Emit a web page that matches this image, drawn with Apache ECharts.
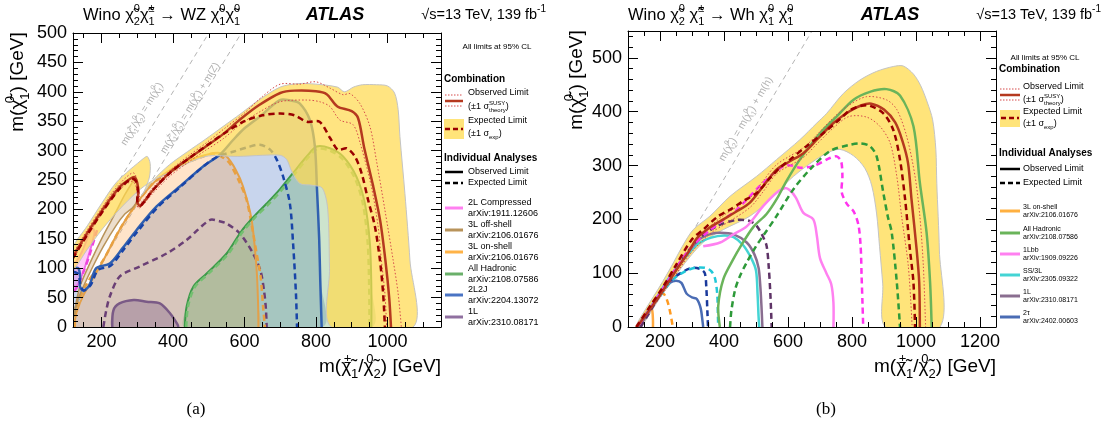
<!DOCTYPE html>
<html><head><meta charset="utf-8">
<script src="https://cdn.jsdelivr.net/npm/echarts@6.0.0/dist/echarts.min.js"></script>
<style>html,body{margin:0;padding:0;background:#fff}#c{width:1107px;height:432px}</style>
</head><body><div id="c"></div>
<script>
// ---------------- DATA: panel (a) Wino WZ ----------------
const wzXLabels = [200, 400, 600, 800, 1000];
const wzYLabels = [0, 50, 100, 150, 200, 250, 300, 350, 400, 450, 500];
const wzObs = [[120,120],[160,160],[200,197],[250,238],[280,252],[292,255],[300,245],[303,228],[300,213],[308,206],[340,230],[390,262],[440,285],[490,306],[540,328],[590,354],[640,377],[700,398],[740,402],[800,401],[830,396],[860,375],[900,367],[918,355],[935,305],[960,240],[980,180],[995,110],[1005,50],[1010,0]];
const wzExp = [[120,117],[160,157],[200,194],[250,235],[284,252],[296,248],[302,230],[300,214],[310,207],[345,234],[395,264],[445,287],[495,309],[545,330],[600,350],[650,360],[700,363],[740,360],[775,349],[810,349],[840,321],[862,301],[886,304],[909,290],[928,261],[946,216],[965,171],[979,114],[988,57],[993,0]];
const wzObsUp = [[120,125],[160,165],[200,202],[250,243],[290,262],[304,232],[310,212],[345,238],[395,268],[445,292],[495,314],[545,338],[600,364],[650,392],[700,413],[755,413],[800,417],[840,406],[876,395],[895,397],[923,380],[951,341],[969,284],[993,199],[1016,114],[1030,57],[1039,0]];
const wzObsDn = [[120,115],[160,155],[200,192],[250,233],[285,248],[296,240],[300,222],[297,210],[306,202],[340,225],[390,256],[440,279],[490,300],[540,320],[590,345],[640,365],[699,383],[774,386],[811,383],[839,375],[867,352],[904,344],[925,310],[955,239],[974,171],[983,114],[993,57],[998,0]];
const wzBandUp = [[120,135],[160,172],[200,210],[240,245],[280,268],[300,278],[318,287],[328,290],[336,278],[334,255],[320,232],[312,224],[345,250],[390,276],[440,298],[490,319],[540,341],[590,363],[640,386],[700,408],[750,414],[800,413],[860,408],[880,400],[905,408],[930,412],[970,412],[1000,410],[1020,398],[1030,370],[1035,324],[1049,227],[1063,114],[1072,0]];
const wzBandDn = [[120,98],[160,132],[200,165],[250,200],[300,230],[340,248],[400,266],[450,281],[500,291],[580,290],[650,292],[700,292],[718,285],[732,265],[755,244],[790,241],[818,236],[833,200],[838,100],[843,0]];
const wzDiag1 = [[120,120],[500,500]];
const wzDiag2 = [[120,28.8],[591.2,500]];
const l2jObs = [[120,100],[135,100],[140,85],[139,70],[148,62],[165,70],[185,100],[223,108],[260,135],[298,165],[354,205],[419,239],[484,273],[531,293],[568,318],[600,338],[643,358],[699,386],[730,385],[755,380],[783,352],[797,307],[803,233],[809,150],[812,80],[816,0]];
const l2jExp = [[120,94],[135,90],[140,75],[150,62],[170,72],[190,97],[225,104],[262,132],[300,162],[356,203],[420,238],[485,273],[525,290],[568,298],[610,306],[643,310],[671,302],[690,285],[708,256],[727,210],[736,142],[744,57],[747,0]];
const l3onObs = [[124,5],[130,25],[150,55],[200,108],[250,165],[300,212],[350,248],[400,270],[450,285],[500,294],[530,296],[550,290],[575,268],[596,239],[620,182],[634,97],[638,40],[639,0]];
const l3onExp = [[125,0],[130,35],[160,75],[205,114],[250,165],[298,210],[345,245],[391,263],[440,280],[484,290],[512,295],[540,288],[559,278],[587,245],[606,216],[624,160],[634,125],[645,86],[652,35],[657,0]];
const l3offObs = [[120,15],[125,30],[140,70],[170,112],[200,150],[235,190],[265,225],[285,245],[293,252],[300,240],[300,218],[290,205],[265,192],[240,172],[205,137],[175,102],[150,70],[133,45],[125,22]];
const l2cObs = [[120,72],[128,68],[140,80],[155,105],[170,135],[180,160],[175,168],[160,150],[145,128],[130,112],[120,108]];
const l2cExp = [[122,60],[135,72],[150,95],[165,120],[180,150],[190,170]];
const l1Obs = [[230,0],[233,28],[250,40],[290,46],[326,43],[363,40],[392,23],[412,5],[415,0]];
const l1Exp = [[205,0],[212,25],[223,52],[251,86],[307,103],[382,125],[438,148],[503,182],[530,180],[550,176],[587,159],[624,125],[645,95],[655,60],[660,30],[662,0]];
const hadObs = [[433,0],[438,35],[457,69],[494,91],[550,125],[590,162],[625,187],[662,210],[700,235],[736,262],[774,290],[802,307],[839,304],[876,290],[913,256],[937,210],[951,142],[955,69],[955,0]];
const hadExp = [[437,0],[442,35],[461,68],[498,90],[554,124],[594,161],[629,186],[666,208],[704,233],[740,260],[776,287],[804,303],[839,300],[874,286],[909,253],[932,208],[945,142],[949,69],[950,0]];

// ---------------- DATA: panel (b) Wino Wh ----------------
const whXLabels = [200, 400, 600, 800, 1000, 1200];
const whYLabels = [0, 100, 200, 300, 400, 500];
const whObs = [[128,0],[165,30],[204,63],[250,105],[290,140],[315,165],[356,185],[398,200],[440,215],[481,231],[523,262],[565,293],[606,308],[648,323],[690,348],[742,379],[790,400],[830,412],[860,415],[900,404],[935,380],[958,345],[975,305],[986,237],[1002,144],[1010,83],[1012,0]];
const whExp = [[126,0],[165,35],[210,75],[250,115],[300,163],[335,181],[380,205],[419,218],[460,234],[502,249],[544,277],[575,296],[606,311],[658,336],[710,360],[760,385],[794,403],[830,411],[856,411],[898,397],[929,366],[950,311],[966,237],[981,144],[992,83],[997,0]];
const whObsUp = [[130,0],[170,32],[210,70],[255,112],[300,152],[340,178],[400,208],[481,240],[523,272],[565,302],[648,333],[690,357],[742,389],[790,412],[846,428],[908,422],[940,404],[971,354],[997,280],[1012,206],[1023,113],[1030,0]];
const whObsDn = [[126,0],[165,28],[200,55],[250,98],[300,140],[360,175],[400,190],[481,222],[523,252],[565,285],[648,315],[690,340],[742,370],[790,391],[846,390],[887,373],[919,342],[940,280],[955,206],[976,113],[988,0]];
const whBandUp = [[124,0],[160,38],[200,76],[236,113],[270,150],[304,181],[356,206],[419,243],[502,280],[564,311],[637,348],[690,379],[721,397],[773,434],[825,459],[877,475],[929,484],[960,485],[992,470],[1015,448],[1035,418],[1052,385],[1062,330],[1065,267],[1073,143],[1075,0]];
const whBandDn = [[140,0],[190,45],[240,88],[290,128],[340,160],[398,181],[481,206],[544,237],[606,274],[658,299],[721,323],[762,330],[805,318],[840,295],[862,262],[877,210],[886,150],[896,80],[905,0]];
const whDiag = [[125,0],[675,550]];
const whHadObs = [[387,0],[382,39],[398,89],[429,126],[450,148],[492,186],[533,210],[565,238],[596,272],[637,311],[700,360],[752,391],[804,422],[856,437],[908,442],[950,430],[992,373],[1012,268],[1033,176],[1044,83],[1049,0]];
const whHadExp = [[419,0],[423,30],[435,70],[450,95],[471,120],[500,150],[523,170],[564,206],[617,256],[669,293],[731,327],[790,338],[825,341],[856,336],[877,317],[898,249],[912,205],[924,176],[940,83],[950,0]];
const whLbbObs = [[335,150],[388,157],[429,172],[471,187],[523,225],[565,250],[590,258],[606,254],[625,240],[648,212],[679,200],[690,170],[700,128],[720,100],[735,80],[742,45],[742,0]];
const whLbbExp = [[135,5],[170,35],[200,63],[260,118],[300,150],[346,175],[400,200],[440,218],[512,262],[585,299],[610,300],[637,296],[679,299],[731,314],[752,317],[766,308],[770,280],[768,250],[785,228],[805,215],[820,190],[827,150],[830,95],[833,40],[835,0]];
const wh1LObs = [[135,0],[200,60],[260,115],[300,148],[325,164],[360,173],[388,175],[430,172],[471,157],[495,135],[508,110],[513,80],[517,40],[520,0]];
const wh1LExp = [[140,0],[200,60],[260,118],[320,163],[380,188],[440,199],[480,197],[502,188],[520,170],[533,151],[540,110],[545,60],[549,0]];
const whSSObs = [[130,0],[180,45],[230,93],[280,130],[320,155],[360,166],[400,170],[430,167],[460,152],[485,128],[500,105],[505,60],[508,20],[510,0]];
const whSSExp = [[200,58],[240,88],[280,104],[310,110],[340,110],[360,104],[372,90],[379,60],[381,20],[382,0]];
const whTauObs = [[140,10],[170,35],[200,62],[231,82],[250,86],[267,82],[283,62],[300,55],[315,52],[327,35],[333,10],[335,0]];
const whTauExp = [[190,52],[230,85],[270,102],[300,110],[325,108],[340,100],[345,70],[348,30],[350,0]];
const wh3LObs = [[126,0],[150,20],[170,38],[176,30],[178,12],[178,0]];
const wh3LExp = [[128,0],[160,30],[190,55],[210,62],[222,50],[232,27],[240,0]];

// ---------------- LEGEND TEXT ----------------
const wzLegNames = ['2L Compressed','3L off-shell','3L on-shell','All Hadronic','2L2J','1L'];
const wzLegRefs = ['arXiv:1911.12606','arXiv:2106.01676','arXiv:2106.01676','arXiv:2108.07586','arXiv:2204.13072','arXiv:2310.08171'];
const whLegNames = ['3L on-shell','All Hadronic','1Lbb','SS/3L','1L','2τ'];
const whLegRefs = ['arXiv:2106.01676','arXiv:2108.07586','arXiv:1909.09226','arXiv:2305.09322','arXiv:2310.08171','arXiv:2402.00603'];

// ---------------- STYLE ----------------
const FONT = 'Liberation Sans';
const wzLegColors = ['#ff80f0','#b8935a','#ffb347','#6ab06a','#4a74c4','#9070a0'];
const whLegColors = ['#ffb040','#6ab45a','#ff80f0','#44d4d4','#8a6e90','#4a6cb4'];
const RED_OBS = '#b5391f', RED_EXP = '#990000', RED_DOT = '#d64b4b';

function ticks(a, b, s) { const r = []; for (let v = a; v <= b + 1e-9; v += s) r.push(v); return r; }

function ax(grid, min, max, pos, tickVals, len, labels, line) {
  return {
    type: 'value', gridIndex: grid, min: min, max: max, position: pos, z: 10,
    axisLine: { show: line, onZero: false, lineStyle: { color: '#000', width: 1 } },
    axisTick: { show: true, inside: true, length: len, customValues: tickVals, lineStyle: { color: '#000', width: 1 } },
    axisLabel: labels ? { show: true, customValues: labels, fontFamily: FONT, fontSize: 18, color: '#000', margin: 6,
      formatter: function (v) { return String(v); } } : { show: false },
    splitLine: { show: false }, minorTick: { show: false }
  };
}

const AX = [{ x: 0, y: 0 }, { x: 4, y: 4 }];
function poly(p, pts, fill, z, stroke) {
  return {
    type: 'custom', xAxisIndex: AX[p].x, yAxisIndex: AX[p].y, z: z, silent: true, clip: true,
    data: [pts[0]],
    renderItem: function (params, api) {
      return { type: 'polygon', shape: { points: pts.map(function (q) { return api.coord(q); }), smooth: 0.3 },
        style: { fill: fill, stroke: stroke || 'none', lineWidth: 1 } };
    }
  };
}
function curve(p, pts, color, width, dash, z, sm) {
  return {
    type: 'custom', xAxisIndex: AX[p].x, yAxisIndex: AX[p].y, z: z, silent: true, clip: true,
    data: [pts[0]],
    renderItem: function (params, api) {
      return { type: 'polyline', shape: { points: pts.map(function (q) { return api.coord(q); }), smooth: sm == null ? 0.3 : sm },
        style: { stroke: color, lineWidth: width, lineDash: dash || null, fill: 'none' } };
    }
  };
}
const DASH = [6, 4], DOT = [1.5, 2];

const series = [];
// panel a: diagonals
series.push(curve(0, wzDiag1, '#b4b4b4', 1, [5, 4], 1, 0));
series.push(curve(0, wzDiag2, '#b4b4b4', 1, [5, 4], 1, 0));
// panel a: fills
series.push(poly(0, l2jObs.concat([[120, 0]]), 'rgba(74,116,196,0.3)', 2));
series.push(poly(0, l3onObs.concat([[120, 0]]), 'rgba(255,166,77,0.3)', 2));
series.push(poly(0, l1Obs, 'rgba(122,90,134,0.35)', 2));
series.push(poly(0, hadObs, 'rgba(90,165,90,0.3)', 2));
series.push(poly(0, l3offObs, 'rgba(200,160,112,0.35)', 2));
series.push(poly(0, l2cObs, 'rgba(255,102,238,0.35)', 2));
// panel a: analysis lines
series.push(curve(0, l1Obs, '#7a5a86', 2.5, null, 3));
series.push(curve(0, l1Exp, '#6a3f75', 2.5, DASH, 3));
series.push(curve(0, l3onObs, '#e3a04a', 2, null, 3));
series.push(curve(0, l3onExp, '#e8a040', 2.5, DASH, 3));
series.push(curve(0, l3offObs.concat([l3offObs[0]]), '#b8935a', 1.5, null, 3));
series.push(curve(0, l2cObs.concat([l2cObs[0]]), '#f070e8', 2, null, 3));
series.push(curve(0, l2cExp, '#ee44dd', 2.5, DASH, 3));
series.push(curve(0, hadObs, '#3d9a4a', 2, null, 3));
series.push(curve(0, hadExp, '#74c070', 2.5, DASH, 3));
series.push(curve(0, l2jObs, '#3060b0', 2.5, null, 3));
series.push(curve(0, l2jExp, '#1844a8', 2.5, DASH, 3));
// panel a: expected band (drawn over analyses)
series.push(poly(0, wzBandUp.concat(wzBandDn.slice().reverse()), 'rgba(255,218,80,0.72)', 4, '#c4c4c4'));
// panel a: combination
series.push(curve(0, wzObsUp, RED_DOT, 1, DOT, 5));
series.push(curve(0, wzObsDn, RED_DOT, 1, DOT, 5));
series.push(curve(0, wzObs, RED_OBS, 2.5, null, 5));
series.push(curve(0, wzExp, RED_EXP, 2.5, DASH, 5));

// panel b
series.push(curve(1, whDiag, '#b4b4b4', 1, [5, 4], 1, 0));
series.push(poly(1, whBandUp.concat(whBandDn.slice().reverse()), '#ffe47a', 2, '#c4c4c4'));
series.push(curve(1, wh3LObs, '#ffa940', 2.5, null, 3));
series.push(curve(1, wh3LExp, '#ff9a20', 2.5, DASH, 3));
series.push(curve(1, whTauObs, '#4a6cb4', 2.5, null, 3));
series.push(curve(1, whTauExp, '#1a3a9c', 2.5, DASH, 3));
series.push(curve(1, whSSObs, '#44d4d4', 2.5, null, 3));
series.push(curve(1, whSSExp, '#22c8d8', 2.5, DASH, 3));
series.push(curve(1, wh1LObs, '#8a6e90', 2.5, null, 3));
series.push(curve(1, wh1LExp, '#5e3366', 2.5, DASH, 3));
series.push(curve(1, whLbbObs, '#ff80f0', 2.5, null, 3));
series.push(curve(1, whLbbExp, '#ff33ee', 2.5, DASH, 3));
series.push(curve(1, whHadObs, '#6ab45a', 2.5, null, 3));
series.push(curve(1, whHadExp, '#2e9a3a', 2.5, DASH, 3));
series.push(curve(1, whObsUp, RED_DOT, 1, DOT, 5));
series.push(curve(1, whObsDn, RED_DOT, 1, DOT, 5));
series.push(curve(1, whObs, RED_OBS, 2.5, null, 5));
series.push(curve(1, whExp, RED_EXP, 2.5, DASH, 5));

// ---------------- TEXT / LEGEND GRAPHICS ----------------
function richFor(fs, color) {
  const sfs = Math.max(5, Math.round(fs * 0.66));
  const lh = Math.round(fs * 0.75);
  const base = { fontFamily: FONT, fontSize: sfs, fill: color, lineHeight: lh };
  return {
    S: Object.assign({}, base, { verticalAlign: 'top', width: 0 }),
    s: Object.assign({}, base, { verticalAlign: 'top' }),
    b: Object.assign({}, base, { verticalAlign: 'bottom' })
  };
}
function txt(x, y, text, fs, o) {
  o = o || {};
  const color = o.color || '#000';
  return { type: 'text', x: x, y: y, rotation: o.rot || 0, z: 100, silent: true,
    style: { text: text, fontFamily: o.family || FONT, fontSize: fs, fontWeight: o.bold ? 'bold' : 'normal',
      fontStyle: o.italic ? 'italic' : 'normal', fill: color, align: o.align || 'left', verticalAlign: 'middle',
      lineHeight: Math.round(fs * 1.45), rich: richFor(fs, color) } };
}
function hl(x1, x2, y, color, w, dash) {
  return { type: 'line', z: 100, silent: true, shape: { x1: x1, y1: y, x2: x2, y2: y }, style: { stroke: color, lineWidth: w, lineDash: dash || null } };
}
function box(x, y, w, h, fill) {
  return { type: 'rect', z: 99, silent: true, shape: { x: x, y: y, width: w, height: h }, style: { fill: fill } };
}

const G = [];
// titles
G.push(txt(83, 15, 'Wino χ̃{S|0}{b|2}χ̃{S|±}{b|1} → WZ χ̃{S|0}{b|1}χ̃{S|0}{b|1}', 16.5));
G.push(txt(335, 15, 'ATLAS', 18, { bold: true, italic: true, align: 'center' }));
G.push(txt(546, 15, '√s=13 TeV, 139 fb{s|-1}', 14.5, { align: 'right' }));
G.push(txt(628, 15, 'Wino χ̃{S|0}{b|2} χ̃{S|±}{b|1} → Wh χ̃{S|0}{b|1} χ̃{S|0}{b|1}', 16.5));
G.push(txt(890, 15, 'ATLAS', 18, { bold: true, italic: true, align: 'center' }));
G.push(txt(1101, 15, '√s=13 TeV, 139 fb{s|-1}', 14.5, { align: 'right' }));
// axis titles
G.push(txt(18, 82, 'm(χ̃{S|0}{b|1}) [GeV]', 19, { rot: Math.PI / 2, align: 'center' }));
G.push(txt(577, 80, 'm(χ̃{S|0}{b|1}) [GeV]', 19, { rot: Math.PI / 2, align: 'center' }));
G.push(txt(441, 367, 'm(χ̃{S|±}{b|1}/χ̃{S|0}{b|2}) [GeV]', 19, { align: 'right' }));
G.push(txt(996, 367, 'm(χ̃{S|±}{b|1}/χ̃{S|0}{b|2}) [GeV]', 19, { align: 'right' }));
// diagonal labels
G.push(txt(142, 114, 'm(χ̃{S|±}{b|1}/χ̃{S|0}{b|2}) = m(χ̃{S|0}{b|1})', 10, { rot: 1.0245, align: 'center', color: '#b0b0b0' }));
G.push(txt(190, 108, 'm(χ̃{S|±}{b|1}/χ̃{S|0}{b|2}) = m(χ̃{S|0}{b|1}) + m(Z)', 10, { rot: 1.0245, align: 'center', color: '#b0b0b0' }));
G.push(txt(746, 119, 'm(χ̃{S|0}{b|2}) = m(χ̃{S|0}{b|1}) + m(h)', 10.5, { rot: 1.036, align: 'center', color: '#b0b0b0' }));
// (a) (b)
G.push(txt(196, 410, '(a)', 17, { family: 'Liberation Serif', align: 'center' }));
G.push(txt(826, 410, '(b)', 17, { family: 'Liberation Serif', align: 'center' }));

// legend a
G.push(txt(497, 47, 'All limits at 95% CL', 8, { align: 'center' }));
G.push(txt(444, 79, 'Combination', 10, { bold: true }));
G.push(hl(445, 463, 95, RED_DOT, 1, [1.5, 1.5]));
G.push(hl(445, 463, 101, RED_OBS, 2.5));
G.push(hl(445, 463, 106, RED_DOT, 1, [1.5, 1.5]));
G.push(txt(468, 93, 'Observed Limit', 9));
G.push(txt(468, 107, '(±1 σ{S|SUSY}{b|theory})', 9));
G.push(box(444, 119, 20, 20, '#ffe47a'));
G.push(hl(445, 463, 129, RED_EXP, 2.5, [5, 3]));
G.push(txt(468, 121, 'Expected Limit', 9));
G.push(txt(468, 134, '(±1 σ{b|exp})', 9));
G.push(txt(444, 158, 'Individual Analyses', 10, { bold: true }));
G.push(hl(445, 463, 172, '#000', 2.5));
G.push(txt(468, 172, 'Observed Limit', 9));
G.push(hl(445, 463, 183, '#000', 2.5, [5, 3]));
G.push(txt(468, 183, 'Expected Limit', 9));
const wzRows = [208, 230, 252, 274, 295, 317];
wzLegNames.forEach(function (n, i) {
  G.push(hl(445, 463, wzRows[i], wzLegColors[i], 3));
  G.push(txt(468, wzRows[i] - 5, n, 9));
  G.push(txt(468, wzRows[i] + 5.5, wzLegRefs[i], 9));
});
// legend b
G.push(txt(1045, 58, 'All limits at 95% CL', 8, { align: 'center' }));
G.push(txt(999, 69, 'Combination', 10, { bold: true }));
G.push(hl(1000, 1020, 89, RED_DOT, 1, [1.5, 1.5]));
G.push(hl(1000, 1020, 95, RED_OBS, 2.5));
G.push(hl(1000, 1020, 100, RED_DOT, 1, [1.5, 1.5]));
G.push(txt(1023, 87, 'Observed Limit', 9));
G.push(txt(1023, 100, '(±1 σ{S|SUSY}{b|theory})', 9));
G.push(box(1000, 110, 20, 17, '#ffe47a'));
G.push(hl(1001, 1019, 118, RED_EXP, 2.5, [5, 3]));
G.push(txt(1023, 112, 'Expected Limit', 9));
G.push(txt(1023, 124, '(±1 σ{b|exp})', 9));
G.push(txt(999, 153, 'Individual Analyses', 10, { bold: true }));
G.push(hl(1000, 1020, 169, '#000', 2.5));
G.push(txt(1023, 169, 'Observed Limit', 9));
G.push(hl(1000, 1020, 183, '#000', 2.5, [5, 3]));
G.push(txt(1023, 183, 'Expected Limit', 9));
const whRows = [211, 233, 254, 275, 296, 317];
whLegNames.forEach(function (n, i) {
  G.push(hl(1000, 1020, whRows[i], whLegColors[i], 3));
  G.push(txt(1023, whRows[i] - 4, n, 7));
  G.push(txt(1023, whRows[i] + 4.5, whLegRefs[i], 7));
});

// ---------------- CHART ----------------
const wzXMinor = ticks(150, 1150, 50), wzYMinor = ticks(0, 500, 10);
const whXMinor = ticks(100, 1250, 50), whYMinor = ticks(0, 550, 20);
const whYMajor = ticks(0, 550, 100);

const chart = echarts.init(document.getElementById('c'), null, { renderer: 'canvas' });
chart.setOption({
  animation: false,
  backgroundColor: '#fff',
  grid: [
    { left: 73, top: 33, width: 368, height: 294 },
    { left: 73, top: 33, width: 368, height: 294 },
    { left: 628, top: 31, width: 368, height: 296 },
    { left: 628, top: 31, width: 368, height: 296 }
  ],
  xAxis: [
    ax(0, 120, 1150, 'bottom', wzXLabels, 10, wzXLabels, true),
    ax(0, 120, 1150, 'top', wzXLabels, 10, null, true),
    ax(1, 120, 1150, 'bottom', wzXMinor, 5, null, false),
    ax(1, 120, 1150, 'top', wzXMinor, 5, null, false),
    ax(2, 100, 1250, 'bottom', whXLabels, 10, whXLabels, true),
    ax(2, 100, 1250, 'top', whXLabels, 10, null, true),
    ax(3, 100, 1250, 'bottom', whXMinor, 5, null, false),
    ax(3, 100, 1250, 'top', whXMinor, 5, null, false)
  ],
  yAxis: [
    ax(0, 0, 500, 'left', wzYLabels, 10, wzYLabels, true),
    ax(0, 0, 500, 'right', wzYLabels, 10, null, true),
    ax(1, 0, 500, 'left', wzYMinor, 5, null, false),
    ax(1, 0, 500, 'right', wzYMinor, 5, null, false),
    ax(2, 0, 550, 'left', whYMajor, 10, whYLabels, true),
    ax(2, 0, 550, 'right', whYMajor, 10, null, true),
    ax(3, 0, 550, 'left', whYMinor, 5, null, false),
    ax(3, 0, 550, 'right', whYMinor, 5, null, false)
  ],
  series: series,
  graphic: G
});
</script></body></html>
